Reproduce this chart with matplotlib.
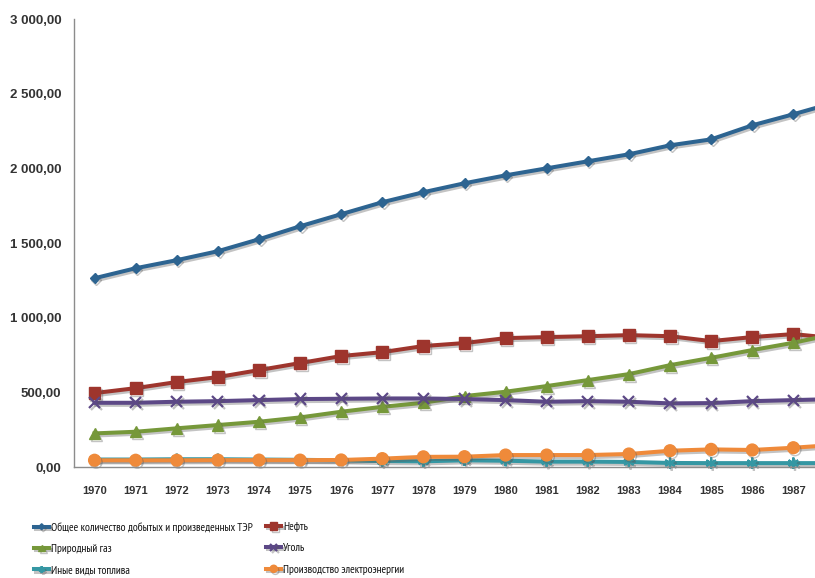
import matplotlib
matplotlib.use("Agg")
import matplotlib.pyplot as plt
import matplotlib.patheffects as pe
from matplotlib import font_manager as fm
from matplotlib.ticker import FuncFormatter

# years (the last one sits past the right edge of the picture)
years = [1970, 1971, 1972, 1973, 1974, 1975, 1976, 1977, 1978, 1979,
         1980, 1981, 1982, 1983, 1984, 1985, 1986, 1987, 1988]

total = [1264, 1331, 1385, 1445, 1525, 1612, 1693, 1773, 1840, 1900,
         1953, 2000, 2047, 2094, 2154, 2194, 2288, 2362, 2440]
oil = [495, 528, 569, 602, 649, 696, 743, 769, 810, 830,
       863, 870, 876, 883, 876, 843, 870, 890, 863]
gas = [225, 236, 259, 281, 303, 332, 370, 403, 430, 475,
       504, 542, 582, 622, 682, 731, 783, 832, 890]
coal = [430, 430, 437, 441, 448, 455, 457, 459, 459, 455,
        448, 437, 441, 437, 426, 428, 441, 448, 455]
other = [50, 50, 52, 52, 50, 48, 45, 40, 38, 45,
         42, 36, 36, 34, 27, 26, 26, 26, 26]
power = [45, 45, 45, 46, 46, 46, 47, 56, 68, 69,
         80, 80, 80, 87, 109, 118, 114, 129, 148]

labels = ["Общее количество добытых и произведенных ТЭР", "Нефть",
          "Природный газ", "Уголь", "Иные виды топлива",
          "Производство электроэнергии"]
series = [total, oil, gas, coal, other, power]
colors = ["#2d6491", "#9e352d", "#76983a", "#5c4886", "#3597a3", "#ef8a3a"]
markers = ["D", "s", "^", "x", (6, 2, 0), "o"]
msizes = [5, 8.5, 8, 8, 8, 8.5]

# narrow font with cyrillic for the legend, if one is there
have = set(f.name for f in fm.fontManager.ttflist)
narrow = [n for n in ["PT Sans Narrow", "Roboto Condensed", "Fira Sans Condensed",
                      "Ubuntu Condensed", "Open Sans Condensed", "IBM Plex Sans Condensed"]
          if n in have][:1]
leg_family = narrow + ["DejaVu Sans"]

plt.rcParams["font.family"] = ["Liberation Sans", "DejaVu Sans"]

fig = plt.figure(figsize=(8.15, 5.78), dpi=100)
ax = fig.add_axes([74 / 815, 1 - 467 / 578, 781 / 815, 448 / 578])

xs = list(range(len(years)))
shadow = [pe.SimpleLineShadow(offset=(1.2, -1.5), alpha=0.35, shadow_color="#555555"), pe.Normal()]
handles = []
for s, lab, c, m, ms in zip(series, labels, colors, markers, msizes):
    mew = 1.6 if m in ("x", (6, 2, 0)) else 1
    h, = ax.plot(xs, s, color=c, lw=2.9, marker=m, markersize=ms,
                 markeredgecolor=c, markerfacecolor=c, markeredgewidth=mew,
                 label=lab, path_effects=shadow, clip_on=False)
    handles.append(h)

ax.set_xlim(-0.5, len(years) - 0.5)
ax.set_ylim(0, 3000)
ax.set_yticks([0, 500, 1000, 1500, 2000, 2500, 3000])
ax.yaxis.set_major_formatter(FuncFormatter(
    lambda v, p: f"{v:,.2f}".replace(",", " ").replace(".", ",")))
ax.set_xticks(xs[:-1])
ax.set_xticklabels([str(y) for y in years[:-1]])

for sp in ["top", "right"]:
    ax.spines[sp].set_visible(False)
for sp in ["left", "bottom"]:
    ax.spines[sp].set_color("#8c8c8c")
    ax.spines[sp].set_linewidth(1.0)
ax.tick_params(axis="both", length=0)
ax.tick_params(axis="y", pad=9, labelsize=9.5, labelcolor="#333333")
ax.tick_params(axis="x", pad=14, labelsize=8, labelcolor="#333333")
for t in ax.get_yticklabels() + ax.get_xticklabels():
    t.set_fontweight("bold")

# legend in two columns, placed as separate blocks
leg_kw = dict(frameon=False, prop={"family": leg_family, "size": 8.2},
              handlelength=1.35, handletextpad=0.15,
              labelspacing=1.0, borderpad=0, borderaxespad=0, markerscale=0.6)
top = 1 - 522 / 578
leg1 = fig.legend([handles[0], handles[2], handles[4]],
                  [labels[0], labels[2], labels[4]],
                  loc="upper left", bbox_to_anchor=(34 / 815, top), **leg_kw)
leg2 = fig.legend([handles[1], handles[3], handles[5]],
                  [labels[1], labels[3], labels[5]],
                  loc="upper left", bbox_to_anchor=(266 / 815, top), **leg_kw)
for lg in (leg1, leg2):
    for t in lg.get_texts():
        t.set_color("#111111")

fig.savefig("out.png", dpi=100)
